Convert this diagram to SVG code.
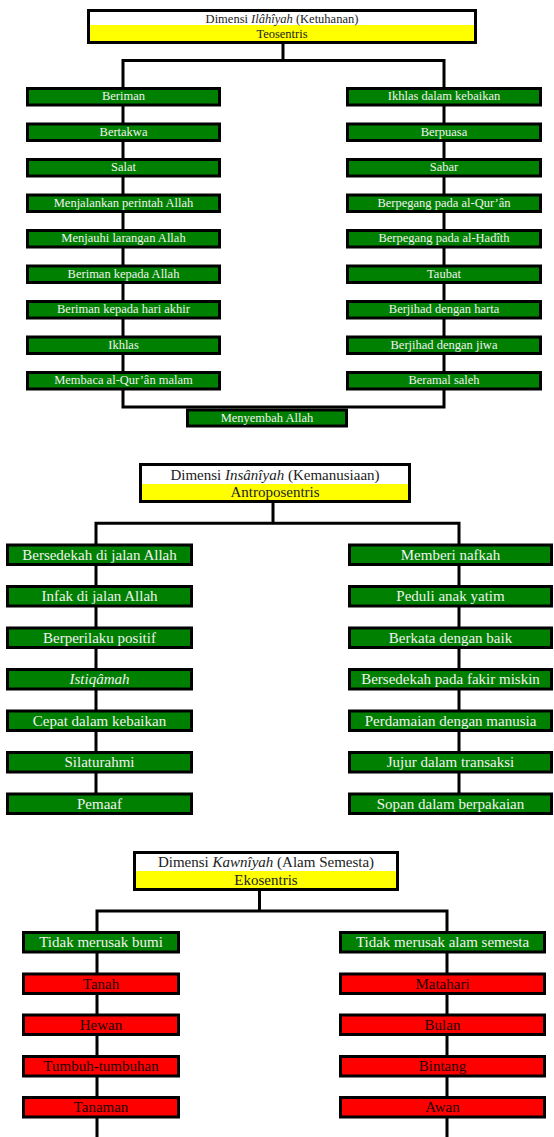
<svg xmlns="http://www.w3.org/2000/svg" width="554" height="1137" viewBox="0 0 554 1137">
<style>
text{font-family:"Liberation Serif","Times New Roman",serif;text-anchor:middle}
.s1{font-size:12.5px}
.s2{font-size:15px}
.hd{fill:#fff;stroke:#000;stroke-width:3}
.yl{fill:#ffff00}
.ht{fill:#222}
.g{fill:#008000;stroke:#000;stroke-width:3}
.r{fill:#ff0000;stroke:#000;stroke-width:3}
.gt{fill:#f2f2f2}
.rt{fill:#1a0000}
.it{font-style:italic}
.con{fill:none;stroke:#000;stroke-width:3}
</style>
<g id="connectors">
<path class="con" d="M283 44V60.5M123 60.5H444V407H123Z"/>
<path class="con" d="M273 503V523.3M96 793V523.3H459V793"/>
<path class="con" d="M259.5 891V911M97 1137V911H447V1137"/>
</g>
<g id="h1">
<rect class="hd" x="88.5" y="10.5" width="387" height="32"/>
<rect class="yl" x="90" y="25" width="384" height="16"/>
<text class="s1 ht" x="282" y="22.5">Dimensi <tspan class="it">Ilâhîyah</tspan> (Ketuhanan)</text>
<text class="s1 ht" x="282" y="37.5">Teosentris</text>
</g>
<g id="l1"><rect class="g" x="27.5" y="88.5" width="192" height="16.5"/><text class="s1 gt" x="123.5" y="100">Beriman</text></g>
<g id="l2"><rect class="g" x="27.5" y="124" width="192" height="16.5"/><text class="s1 gt" x="123.5" y="135.5">Bertakwa</text></g>
<g id="l3"><rect class="g" x="27.5" y="159.5" width="192" height="16.5"/><text class="s1 gt" x="123.5" y="171">Salat</text></g>
<g id="l4"><rect class="g" x="27.5" y="195" width="192" height="16.5"/><text class="s1 gt" x="123.5" y="206.5">Menjalankan perintah Allah</text></g>
<g id="l5"><rect class="g" x="27.5" y="230.5" width="192" height="16.5"/><text class="s1 gt" x="123.5" y="242">Menjauhi larangan Allah</text></g>
<g id="l6"><rect class="g" x="27.5" y="266" width="192" height="16.5"/><text class="s1 gt" x="123.5" y="277.5">Beriman kepada Allah</text></g>
<g id="l7"><rect class="g" x="27.5" y="301.5" width="192" height="16.5"/><text class="s1 gt" x="123.5" y="313">Beriman kepada hari akhir</text></g>
<g id="l8"><rect class="g" x="27.5" y="337" width="192" height="16.5"/><text class="s1 gt" x="123.5" y="348.5">Ikhlas</text></g>
<g id="l9"><rect class="g" x="27.5" y="372.5" width="192" height="16.5"/><text class="s1 gt" x="123.5" y="384">Membaca al-Qur’ân malam</text></g>
<g id="r1"><rect class="g" x="347.5" y="88.5" width="193" height="16.5"/><text class="s1 gt" x="444" y="100">Ikhlas dalam kebaikan</text></g>
<g id="r2"><rect class="g" x="347.5" y="124" width="193" height="16.5"/><text class="s1 gt" x="444" y="135.5">Berpuasa</text></g>
<g id="r3"><rect class="g" x="347.5" y="159.5" width="193" height="16.5"/><text class="s1 gt" x="444" y="171">Sabar</text></g>
<g id="r4"><rect class="g" x="347.5" y="195" width="193" height="16.5"/><text class="s1 gt" x="444" y="206.5">Berpegang pada al-Qur’ân</text></g>
<g id="r5"><rect class="g" x="347.5" y="230.5" width="193" height="16.5"/><text class="s1 gt" x="444" y="242">Berpegang pada al-Ḥadîth</text></g>
<g id="r6"><rect class="g" x="347.5" y="266" width="193" height="16.5"/><text class="s1 gt" x="444" y="277.5">Taubat</text></g>
<g id="r7"><rect class="g" x="347.5" y="301.5" width="193" height="16.5"/><text class="s1 gt" x="444" y="313">Berjihad dengan harta</text></g>
<g id="r8"><rect class="g" x="347.5" y="337" width="193" height="16.5"/><text class="s1 gt" x="444" y="348.5">Berjihad dengan jiwa</text></g>
<g id="r9"><rect class="g" x="347.5" y="372.5" width="193" height="16.5"/><text class="s1 gt" x="444" y="384">Beramal saleh</text></g>
<g id="m1"><rect class="g" x="187.5" y="410" width="159" height="16"/><text class="s1 gt" x="267" y="421.5">Menyembah Allah</text></g>

<g id="h2">
<rect class="hd" x="140.5" y="464.5" width="269" height="37"/>
<rect class="yl" x="142" y="484" width="266" height="16"/>
<text class="s2 ht" x="275" y="480">Dimensi <tspan class="it">Insânîyah</tspan> (Kemanusiaan)</text>
<text class="s2 ht" x="275" y="497">Antroposentris</text>
</g>
<g id="a1"><rect class="g" x="7.5" y="545" width="184" height="19.5"/><text class="s2 gt" x="99.5" y="559.5">Bersedekah di jalan Allah</text></g>
<g id="a2"><rect class="g" x="7.5" y="586.5" width="184" height="19.5"/><text class="s2 gt" x="99.5" y="601">Infak di jalan Allah</text></g>
<g id="a3"><rect class="g" x="7.5" y="628" width="184" height="19.5"/><text class="s2 gt" x="99.5" y="642.5">Berperilaku positif</text></g>
<g id="a4"><rect class="g" x="7.5" y="669.5" width="184" height="19.5"/><text class="s2 gt it" x="99.5" y="684">Istiqâmah</text></g>
<g id="a5"><rect class="g" x="7.5" y="711" width="184" height="19.5"/><text class="s2 gt" x="99.5" y="725.5">Cepat dalam kebaikan</text></g>
<g id="a6"><rect class="g" x="7.5" y="752.5" width="184" height="19.5"/><text class="s2 gt" x="99.5" y="767">Silaturahmi</text></g>
<g id="a7"><rect class="g" x="7.5" y="794" width="184" height="19.5"/><text class="s2 gt" x="99.5" y="808.5">Pemaaf</text></g>
<g id="b1"><rect class="g" x="349.5" y="545" width="202" height="19.5"/><text class="s2 gt" x="450.5" y="559.5">Memberi nafkah</text></g>
<g id="b2"><rect class="g" x="349.5" y="586.5" width="202" height="19.5"/><text class="s2 gt" x="450.5" y="601">Peduli anak yatim</text></g>
<g id="b3"><rect class="g" x="349.5" y="628" width="202" height="19.5"/><text class="s2 gt" x="450.5" y="642.5">Berkata dengan baik</text></g>
<g id="b4"><rect class="g" x="349.5" y="669.5" width="202" height="19.5"/><text class="s2 gt" x="450.5" y="684">Bersedekah pada fakir miskin</text></g>
<g id="b5"><rect class="g" x="349.5" y="711" width="202" height="19.5"/><text class="s2 gt" x="450.5" y="725.5">Perdamaian dengan manusia</text></g>
<g id="b6"><rect class="g" x="349.5" y="752.5" width="202" height="19.5"/><text class="s2 gt" x="450.5" y="767">Jujur dalam transaksi</text></g>
<g id="b7"><rect class="g" x="349.5" y="794" width="202" height="19.5"/><text class="s2 gt" x="450.5" y="808.5">Sopan dalam berpakaian</text></g>

<g id="h3">
<rect class="hd" x="134.5" y="852.5" width="263" height="37"/>
<rect class="yl" x="136" y="871" width="260" height="17"/>
<text class="s2 ht" x="266" y="867">Dimensi <tspan class="it">Kawnîyah</tspan> (Alam Semesta)</text>
<text class="s2 ht" x="266" y="884.5">Ekosentris</text>
</g>
<g id="c1"><rect class="g" x="23.5" y="932.5" width="155" height="19.5"/><text class="s2 gt" x="101" y="947">Tidak merusak bumi</text></g>
<g id="c2"><rect class="r" x="23.5" y="974" width="155" height="19.5"/><text class="s2 rt" x="101" y="988.5">Tanah</text></g>
<g id="c3"><rect class="r" x="23.5" y="1015" width="155" height="19.5"/><text class="s2 rt" x="101" y="1029.5">Hewan</text></g>
<g id="c4"><rect class="r" x="23.5" y="1056.5" width="155" height="19.5"/><text class="s2 rt" x="101" y="1071">Tumbuh-tumbuhan</text></g>
<g id="c5"><rect class="r" x="23.5" y="1097.5" width="155" height="19.5"/><text class="s2 rt" x="101" y="1112">Tanaman</text></g>
<g id="d1"><rect class="g" x="340.5" y="932.5" width="204" height="19.5"/><text class="s2 gt" x="442.5" y="947">Tidak merusak alam semesta</text></g>
<g id="d2"><rect class="r" x="340.5" y="974" width="204" height="19.5"/><text class="s2 rt" x="442.5" y="988.5">Matahari</text></g>
<g id="d3"><rect class="r" x="340.5" y="1015" width="204" height="19.5"/><text class="s2 rt" x="442.5" y="1029.5">Bulan</text></g>
<g id="d4"><rect class="r" x="340.5" y="1056.5" width="204" height="19.5"/><text class="s2 rt" x="442.5" y="1071">Bintang</text></g>
<g id="d5"><rect class="r" x="340.5" y="1097.5" width="204" height="19.5"/><text class="s2 rt" x="442.5" y="1112">Awan</text></g>
</svg>
